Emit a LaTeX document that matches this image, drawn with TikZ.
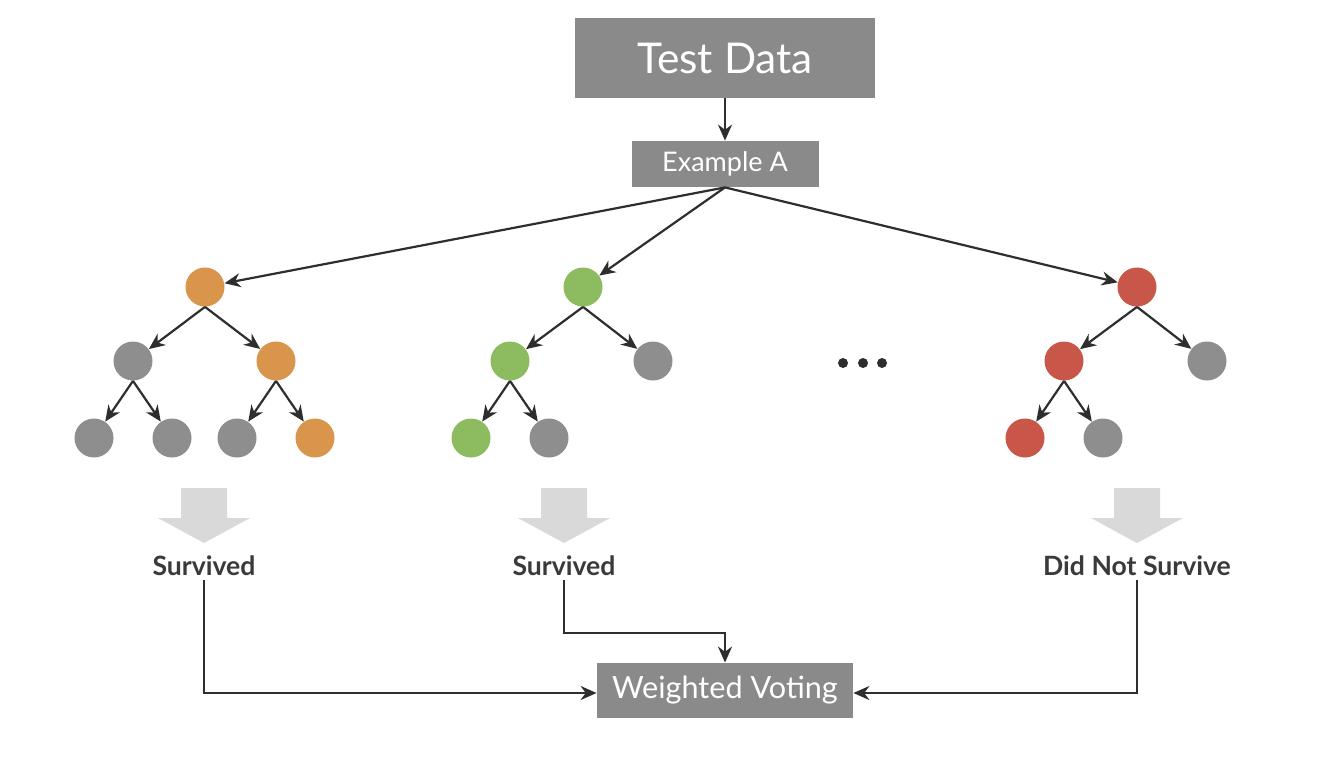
\documentclass[tikz,border=0pt]{standalone}
\usepackage{fontspec}
\setmainfont{Lato}
\usetikzlibrary{arrows.meta}
\definecolor{boxgray}{HTML}{8A8A8A}
\definecolor{nodegray}{HTML}{8E8E8E}
\definecolor{cor}{HTML}{D9954B}
\definecolor{cgr}{HTML}{8DBB5F}
\definecolor{cre}{HTML}{C8574A}
\definecolor{bigarrow}{HTML}{D9D9D9}
\definecolor{txt}{HTML}{3A3A3A}
\definecolor{line}{HTML}{2E2E2E}
\tikzset{
  box/.style={fill=boxgray, text=white, inner sep=0pt, font=#1},
  tn/.style={circle, fill=#1, minimum size=19.5pt, inner sep=0pt},
  con/.style={draw=line, line width=1.1pt, -{Stealth[length=8pt,width=7pt]}},
  lbl/.style={text=txt, font=\bfseries\fontsize{13.3}{15}\selectfont, inner sep=2pt},
  bigdown/.style={fill=bigarrow},
  dot/.style={circle, fill=line, minimum size=5pt, inner sep=0pt},
}
\begin{document}
\begin{tikzpicture}[x=0.5pt,y=-0.5pt]
\useasboundingbox (0,0) rectangle (1342,756);
\fill[white] (0,0) rectangle (1342,756);
% boxes
\node[box=\fontsize{21.2}{25}\selectfont, minimum width=150pt, minimum height=40pt] (td) at (725,58) {Test Data};
\node[box=\fontsize{13.5}{16}\selectfont, minimum width=93.5pt, minimum height=23pt] (ea) at (725,164) {Example A};
\node[box=\fontsize{15.3}{18}\selectfont, minimum width=128pt, minimum height=27.5pt] (wv) at (725,690.5) {Weighted Voting};
\draw[con] (td) -- (ea);
% tree 1
\node[tn=cor] (a0) at (205,287) {};
\node[tn=nodegray] (a1) at (133,361) {};
\node[tn=cor] (a2) at (276,361) {};
\node[tn=nodegray] (a3) at (94,438) {};
\node[tn=nodegray] (a4) at (172,438) {};
\node[tn=nodegray] (a5) at (237,438) {};
\node[tn=cor] (a6) at (315,438) {};
% tree 2
\node[tn=cgr] (b0) at (583,287) {};
\node[tn=cgr] (b1) at (510,361) {};
\node[tn=nodegray] (b2) at (653,361) {};
\node[tn=cgr] (b3) at (471,438) {};
\node[tn=nodegray] (b4) at (549,438) {};
% tree 3
\node[tn=cre] (c0) at (1137,287) {};
\node[tn=cre] (c1) at (1064,361) {};
\node[tn=nodegray] (c2) at (1207,361) {};
\node[tn=cre] (c3) at (1025,438) {};
\node[tn=nodegray] (c4) at (1103,438) {};
% dots
\node[dot] (d1) at (843,363) {};
\node[dot] (d2) at (863,363) {};
\node[dot] (d3) at (882,363) {};
% edges from example
\draw[con] (ea.south) -- (a0);
\draw[con] (ea.south) -- (b0);
\draw[con] (ea.south) -- (c0);
% tree edges
\foreach \p/\c in {a0/a1,a0/a2,a1/a3,a1/a4,a2/a5,a2/a6,b0/b1,b0/b2,b1/b3,b1/b4,c0/c1,c0/c2,c1/c3,c1/c4}
  \draw[con] (\p.south) -- (\c);
% big down arrows
\foreach \x in {204,564,1137}
  \fill[bigdown] (\x-23,488) -- (\x+23,488) -- (\x+23,518) -- (\x+46,518) -- (\x,543) -- (\x-46,518) -- (\x-23,518) -- cycle;
% labels
\node[lbl] (s1) at (204,566) {Survived};
\node[lbl] (s2) at (564,566) {Survived};
\node[lbl] (s3) at (1137,566) {Did Not Survive};
% connectors to voting
\draw[con] (s1.south) -- (204,693) -- (wv.west |- 0,693);
\draw[con] (s2.south) -- (564,633) -- (wv.north |- 0,633) -- (wv.north);
\draw[con] (s3.south) -- (1137,693) -- (wv.east |- 0,693);
\end{tikzpicture}
\end{document}
